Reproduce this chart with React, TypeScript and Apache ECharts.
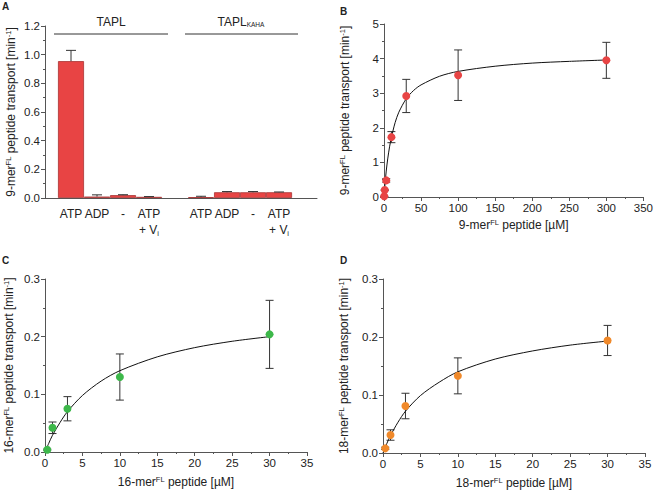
import React, { useEffect, useRef } from "react";
import * as echarts from "echarts";

// ---------- Data ----------
const barLabels = ["ATP", "ADP", "-", "ATP+Vi"];
const taplSlots = [1, 2, 3, 4];
const taplValues = [0.955, 0.01, 0.02, 0.008];
const taplErrors = [0.075, 0.012, 0.003, 0.002];
const kahaSlots = [6, 7, 8, 9];
const kahaValues = [0.006, 0.04, 0.04, 0.04];
const kahaErrors = [0.006, 0.005, 0.005, 0.002];

const conc9 = [0.3, 1, 3, 10, 30, 100, 300];
const rate9 = [0.02, 0.2, 0.48, 1.73, 2.92, 3.52, 3.95];
const err9 = [0.0, 0.0, 0.05, 0.16, 0.48, 0.73, 0.52];
const fit9X = [0, 1, 2, 3, 5, 7.5, 10, 15, 20, 30, 40, 50, 75, 100, 150, 200, 250, 300];
const fit9Y = [0, 0.28, 0.52, 0.75, 1.1, 1.45, 1.72, 2.15, 2.45, 2.84, 3.08, 3.24, 3.49, 3.63, 3.78, 3.87, 3.92, 3.96];

const conc16 = [0.3, 1, 3, 10, 30];
const rate16 = [0.004, 0.042, 0.075, 0.13, 0.204];
const err16 = [0.001, 0.01, 0.021, 0.04, 0.059];
const fit16X = [0, 0.5, 1, 2, 3, 5, 7.5, 10, 15, 20, 25, 30];
const fit16Y = [0, 0.015, 0.029, 0.051, 0.07, 0.098, 0.123, 0.141, 0.165, 0.181, 0.192, 0.2];

const conc18 = [0.3, 1, 3, 10, 30];
const rate18 = [0.008, 0.031, 0.081, 0.133, 0.194];
const err18 = [0.002, 0.009, 0.022, 0.031, 0.026];
const fit18X = [0, 0.5, 1, 2, 3, 5, 7.5, 10, 15, 20, 25, 30];
const fit18Y = [0, 0.016, 0.03, 0.053, 0.072, 0.099, 0.122, 0.14, 0.162, 0.176, 0.186, 0.193];

// ---------- Styles ----------
const FONT = "'Liberation Sans', Arial, sans-serif";
const TXT = "#222";
const AXIS = "#555";
const RED = "#e84444";
const RED_BORDER = "#a83232";
const GREEN = "#3db84a";
const ORANGE = "#f0892a";
const TICK_FS = 11.5;
const NAME_FS = 12;

const richSup = {
  sup: { fontSize: 7.5, fontFamily: FONT, color: TXT, padding: [0, 0, 5, 0] },
};

function axisCommon() {
  return {
    axisLine: { show: true, onZero: false, lineStyle: { color: AXIS, width: 1 } },
    axisTick: { show: true, inside: false, length: 4, lineStyle: { color: AXIS } },
    minorTick: { show: true, splitNumber: 2, length: 2, lineStyle: { color: AXIS } },
    splitLine: { show: false },
    axisLabel: { color: TXT, fontSize: TICK_FS, fontFamily: FONT, margin: 5 },
    nameTextStyle: { color: TXT, fontSize: NAME_FS, fontFamily: FONT, rich: richSup },
  };
}

function errRender(capBoth: boolean, cap: number) {
  return (params: any, api: any) => {
    const x = api.value(0);
    const lo = api.value(1);
    const hi = api.value(2);
    const pHi = api.coord([x, hi]);
    const pLo = api.coord([x, lo]);
    const style = { stroke: "#333", lineWidth: 1 };
    const children: any[] = [
      { type: "line", shape: { x1: pHi[0], y1: pHi[1], x2: pLo[0], y2: pLo[1] }, style },
      { type: "line", shape: { x1: pHi[0] - cap, y1: pHi[1], x2: pHi[0] + cap, y2: pHi[1] }, style },
    ];
    if (capBoth) {
      children.push({ type: "line", shape: { x1: pLo[0] - cap, y1: pLo[1], x2: pLo[0] + cap, y2: pLo[1] }, style });
    }
    return { type: "group", children };
  };
}

function labelFor(v: number): string {
  const i1 = taplSlots.indexOf(v);
  const i2 = kahaSlots.indexOf(v);
  const i = i1 >= 0 ? i1 : i2;
  if (i < 0) return "";
  const l = barLabels[i];
  if (l === "ATP+Vi") return "{t|ATP}\n{t|+ V}{sub|i}";
  return "{t|" + l + "}";
}

export default function App() {
  const ref = useRef<HTMLDivElement>(null);
  useEffect(() => {
    if (!ref.current) return;
    const chart = echarts.init(ref.current, undefined, { renderer: "svg" });

    const grids = [
      { left: 45, top: 26, width: 272, height: 172 },
      { left: 384, top: 24, width: 261, height: 173 },
      { left: 45, top: 279, width: 262, height: 173 },
      { left: 383, top: 279, width: 262, height: 174 },
    ];

    const errA = taplSlots
      .map((s, i) => [s, taplValues[i], taplValues[i] + taplErrors[i]])
      .concat(kahaSlots.map((s, i) => [s, kahaValues[i], kahaValues[i] + kahaErrors[i]]));

    const mk = (xs: number[], ys: number[], es: number[]) => xs.map((x, i) => [x, ys[i] - es[i], ys[i] + es[i]]);

    const option: any = {
      animation: false,
      backgroundColor: "#ffffff",
      textStyle: { fontFamily: FONT },
      grid: grids,
      xAxis: [
        {
          ...axisCommon(),
          gridIndex: 0,
          type: "value",
          min: 0,
          max: 10.46,
          interval: 1,
          axisTick: { show: false },
          minorTick: { show: false },
          axisLabel: {
            color: TXT,
            fontSize: NAME_FS,
            fontFamily: FONT,
            margin: 8,
            showMaxLabel: false,
            formatter: (v: number) => labelFor(v),
            rich: {
              t: { fontSize: NAME_FS, fontFamily: FONT, color: TXT, lineHeight: 16 },
              sub: { fontSize: 7.5, fontFamily: FONT, color: TXT, padding: [6, 0, 0, 0], lineHeight: 16 },
            },
          },
        },
        {
          ...axisCommon(),
          gridIndex: 1,
          type: "value",
          min: 0,
          max: 350,
          interval: 50,
          name: "9-mer{sup|FL} peptide [µM]",
          nameLocation: "middle",
          nameGap: 21,
        },
        {
          ...axisCommon(),
          gridIndex: 2,
          type: "value",
          min: 0,
          max: 35,
          interval: 5,
          name: "16-mer{sup|FL} peptide [µM]",
          nameLocation: "middle",
          nameGap: 23,
        },
        {
          ...axisCommon(),
          gridIndex: 3,
          type: "value",
          min: 0,
          max: 35,
          interval: 5,
          name: "18-mer{sup|FL} peptide [µM]",
          nameLocation: "middle",
          nameGap: 23,
        },
      ],
      yAxis: [
        {
          ...axisCommon(),
          gridIndex: 0,
          type: "value",
          min: 0,
          max: 1.2,
          interval: 0.2,
          axisLabel: { ...axisCommon().axisLabel, formatter: (v: number) => v.toFixed(1) },
          name: "9-mer{sup|FL} peptide transport [min{sup|-1}]",
          nameLocation: "middle",
          nameGap: 28,
        },
        {
          ...axisCommon(),
          gridIndex: 1,
          type: "value",
          min: 0,
          max: 5,
          interval: 1,
          name: "9-mer{sup|FL} peptide transport [min{sup|-1}]",
          nameLocation: "middle",
          nameGap: 33,
        },
        {
          ...axisCommon(),
          gridIndex: 2,
          type: "value",
          min: 0,
          max: 0.3,
          interval: 0.1,
          axisLabel: { ...axisCommon().axisLabel, formatter: (v: number) => v.toFixed(1) },
          name: "16-mer{sup|FL} peptide transport [min{sup|-1}]",
          nameLocation: "middle",
          nameGap: 30,
        },
        {
          ...axisCommon(),
          gridIndex: 3,
          type: "value",
          min: 0,
          max: 0.3,
          interval: 0.1,
          axisLabel: { ...axisCommon().axisLabel, formatter: (v: number) => v.toFixed(1) },
          name: "18-mer{sup|FL} peptide transport [min{sup|-1}]",
          nameLocation: "middle",
          nameGap: 33,
        },
      ],
      series: [
        {
          type: "bar",
          xAxisIndex: 0,
          yAxisIndex: 0,
          barWidth: 26,
          barGap: "-100%",
          itemStyle: { color: RED, borderColor: RED_BORDER, borderWidth: 0.8 },
          data: taplSlots.map((s, i) => [s, taplValues[i]]),
        },
        {
          type: "bar",
          xAxisIndex: 0,
          yAxisIndex: 0,
          barWidth: 26,
          barGap: "-100%",
          itemStyle: { color: RED, borderColor: RED_BORDER, borderWidth: 0.8 },
          data: kahaSlots.map((s, i) => [s, kahaValues[i]]),
        },
        {
          type: "custom",
          xAxisIndex: 0,
          yAxisIndex: 0,
          renderItem: errRender(false, 5),
          encode: { x: 0, y: [1, 2] },
          data: errA,
          z: 5,
        },
        // B
        {
          type: "line",
          xAxisIndex: 1,
          yAxisIndex: 1,
          smooth: 0.3,
          showSymbol: false,
          lineStyle: { color: "#111", width: 1 },
          data: fit9X.map((x, i) => [x, fit9Y[i]]),
        },
        {
          type: "custom",
          xAxisIndex: 1,
          yAxisIndex: 1,
          renderItem: errRender(true, 4),
          encode: { x: 0, y: [1, 2] },
          data: mk(conc9, rate9, err9),
        },
        {
          type: "scatter",
          xAxisIndex: 1,
          yAxisIndex: 1,
          symbolSize: 8,
          itemStyle: { color: RED, opacity: 1 },
          data: conc9.map((x, i) => [x, rate9[i]]),
          z: 6,
        },
        // C
        {
          type: "line",
          xAxisIndex: 2,
          yAxisIndex: 2,
          smooth: 0.3,
          showSymbol: false,
          lineStyle: { color: "#111", width: 1 },
          data: fit16X.map((x, i) => [x, fit16Y[i]]),
        },
        {
          type: "custom",
          xAxisIndex: 2,
          yAxisIndex: 2,
          renderItem: errRender(true, 4),
          encode: { x: 0, y: [1, 2] },
          data: mk(conc16, rate16, err16),
        },
        {
          type: "scatter",
          xAxisIndex: 2,
          yAxisIndex: 2,
          symbolSize: 8,
          itemStyle: { color: GREEN, opacity: 1 },
          data: conc16.map((x, i) => [x, rate16[i]]),
          z: 6,
        },
        // D
        {
          type: "line",
          xAxisIndex: 3,
          yAxisIndex: 3,
          smooth: 0.3,
          showSymbol: false,
          lineStyle: { color: "#111", width: 1 },
          data: fit18X.map((x, i) => [x, fit18Y[i]]),
        },
        {
          type: "custom",
          xAxisIndex: 3,
          yAxisIndex: 3,
          renderItem: errRender(true, 4),
          encode: { x: 0, y: [1, 2] },
          data: mk(conc18, rate18, err18),
        },
        {
          type: "scatter",
          xAxisIndex: 3,
          yAxisIndex: 3,
          symbolSize: 8,
          itemStyle: { color: ORANGE, opacity: 1 },
          data: conc18.map((x, i) => [x, rate18[i]]),
          z: 6,
        },
      ],
      graphic: [
        { type: "text", left: 2, top: 1, style: { text: "A", fontSize: 10, fontWeight: "bold", fontFamily: FONT, fill: TXT } },
        { type: "text", left: 340, top: 6, style: { text: "B", fontSize: 10, fontWeight: "bold", fontFamily: FONT, fill: TXT } },
        { type: "text", left: 2, top: 255, style: { text: "C", fontSize: 10, fontWeight: "bold", fontFamily: FONT, fill: TXT } },
        { type: "text", left: 340, top: 255, style: { text: "D", fontSize: 10, fontWeight: "bold", fontFamily: FONT, fill: TXT } },
        {
          type: "text",
          x: 111,
          y: 28,
          style: { text: "TAPL", fontSize: NAME_FS, fontFamily: FONT, fill: TXT, align: "center", verticalAlign: "bottom" },
        },
        { type: "line", shape: { x1: 54, y1: 34, x2: 168, y2: 34 }, style: { stroke: "#333", lineWidth: 1 } },
        {
          type: "text",
          x: 241,
          y: 28,
          style: {
            text: "{t|TAPL}{s|KAHA}",
            align: "center",
            verticalAlign: "bottom",
            rich: {
              t: { fontSize: NAME_FS, fontFamily: FONT, fill: TXT, color: TXT },
              s: { fontSize: 6.5, fontFamily: FONT, fill: TXT, color: TXT, padding: [6, 0, 0, 0] },
            },
          },
        },
        { type: "line", shape: { x1: 185, y1: 34, x2: 298, y2: 34 }, style: { stroke: "#333", lineWidth: 1 } },
      ],
    };

    chart.setOption(option);
    return () => chart.dispose();
  }, []);

  return (
    <div
      ref={ref}
      style={{ position: "fixed", left: 0, top: 0, width: 656, height: 493, background: "#fff" }}
    />
  );
}
